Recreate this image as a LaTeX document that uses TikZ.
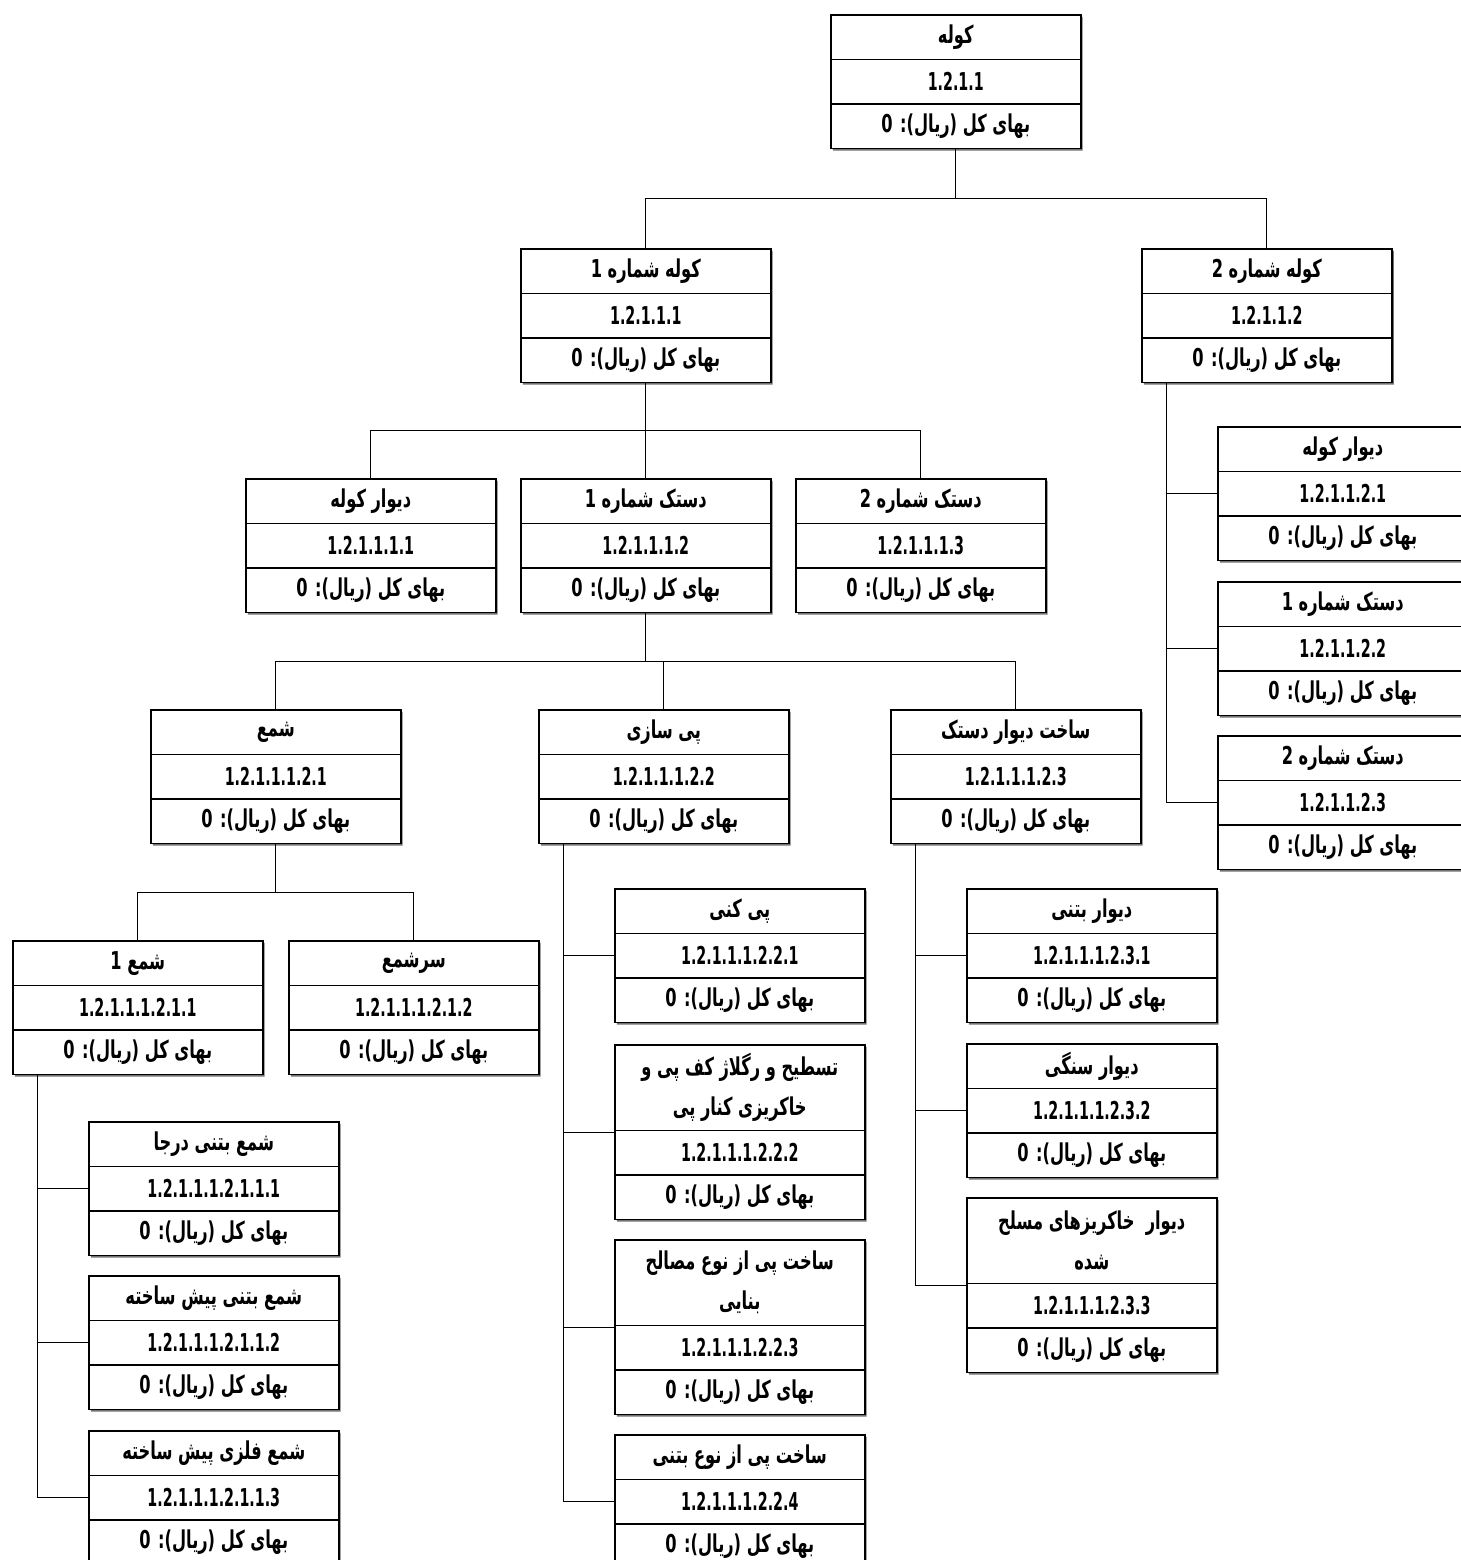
\documentclass[tikz,border=0pt]{standalone}
\usepackage{fontspec}
\setmainfont{DejaVu Sans}[FakeStretch=0.58]
\newfontfamily\fa[Script=Arabic,FakeStretch=0.66]{DejaVu Sans}
\TeXXeTstate=1
\usetikzlibrary{shapes.multipart,shadows,calc}

\tikzset{
  wbsbox/.style={rectangle split, rectangle split parts=3, draw, fill=white,
    line width=0.9pt, inner sep=0pt, anchor=north west,
    font=\fontsize{14}{16}\selectfont\bfseries,
    drop shadow={shadow xshift=0.04cm, shadow yshift=-0.04cm, fill=black!55, opacity=1}},
  bus/.style={to path={|- ($(\tikztostart)!.5!(\tikztotarget)$) -| (\tikztotarget)}},
  link/.style={line width=0.5pt}
}
\newcommand\cellrow[1]{\parbox[c][0.86cm][c]{5cm}{\centering #1}}
\newcommand\fatext[1]{{\fa\beginR #1\endR}}
\newcommand\titletwo[2]{\parbox[c][1.68cm][c]{5cm}{\centering\fa\baselineskip=0.8cm
  \beginR #1\endR\par\beginR #2\endR}}
\newcommand\cost{\cellrow{\fatext{بهای کل (ریال): 0}}}
% box: name, top left corner, title, code
\newcommand\wbs[4]{\node[wbsbox] (#1) at (#2)
  {\cellrow{\fatext{#3}}\nodepart{two}\cellrow{#4}\nodepart{three}\cost};}
% box with a title on two lines
\newcommand\wbsl[5]{\node[wbsbox] (#1) at (#2)
  {\titletwo{#3}{#4}\nodepart{two}\cellrow{#5}\nodepart{three}\cost};}

\begin{document}
\begin{tikzpicture}[x=0.02cm,y=-0.02cm]
\useasboundingbox (0,0) rectangle (1461,1560);
\clip (0,0) rectangle (1461,1560);
\fill[white] (0,0) rectangle (1461,1560);

\wbs{kole}{830,14}{\beginR کوله\endR}{1.2.1.1}
\wbs{k1}{520,248}{\beginR کوله شماره 1\endR}{1.2.1.1.1}
\wbs{k2}{1141,248}{\beginR کوله شماره 2\endR}{1.2.1.1.2}

\wbs{k1a}{245,478}{\beginR دیوار کوله\endR}{1.2.1.1.1.1}
\wbs{k1b}{520,478}{\beginR دستک شماره 1\endR}{1.2.1.1.1.2}
\wbs{k1c}{795,478}{\beginR دستک شماره 2\endR}{1.2.1.1.1.3}

\wbs{k2a}{1217,426}{\beginR دیوار کوله\endR}{1.2.1.1.2.1}
\wbs{k2b}{1217,581}{\beginR دستک شماره 1\endR}{1.2.1.1.2.2}
\wbs{k2c}{1217,735}{\beginR دستک شماره 2\endR}{1.2.1.1.2.3}

\wbs{shama}{150,709}{\beginR شمع\endR}{1.2.1.1.1.2.1}
\wbs{pey}{538,709}{\beginR پی سازی\endR}{1.2.1.1.1.2.2}
\wbs{divar}{890,709}{\beginR ساخت دیوار دستک\endR}{1.2.1.1.1.2.3}

\wbs{shama1}{12,940}{\beginR شمع 1\endR}{1.2.1.1.1.2.1.1}
\wbs{sarshama}{288,940}{\beginR سرشمع\endR}{1.2.1.1.1.2.1.2}
\wbs{sha}{88,1121}{\beginR شمع بتنی درجا\endR}{1.2.1.1.1.2.1.1.1}
\wbs{shb}{88,1275}{\beginR شمع بتنی پیش ساخته\endR}{1.2.1.1.1.2.1.1.2}
\wbs{shc}{88,1430}{\beginR شمع فلزی پیش ساخته\endR}{1.2.1.1.1.2.1.1.3}

\wbs{pa}{614,888}{\beginR پی کنی\endR}{1.2.1.1.1.2.2.1}
\wbsl{pb}{614,1044}{\beginR تسطیح و رگلاژ کف پی و\endR}{\beginR خاکریزی کنار پی\endR}{1.2.1.1.1.2.2.2}
\wbsl{pc}{614,1239}{\beginR ساخت پی از نوع مصالح\endR}{\beginR بنایی\endR}{1.2.1.1.1.2.2.3}
\wbs{pd}{614,1434}{\beginR ساخت پی از نوع بتنی\endR}{1.2.1.1.1.2.2.4}

\wbs{da}{966,888}{\beginR دیوار بتنی\endR}{1.2.1.1.1.2.3.1}
\wbs{db}{966,1043}{\beginR دیوار سنگی\endR}{1.2.1.1.1.2.3.2}
\wbsl{dc}{966,1197}{\beginR دیوار\ \ خاکریزهای مسلح\endR}{\beginR شده\endR}{1.2.1.1.1.2.3.3}

% tree links
\draw[link] (kole.south) to[bus] (k1.north);
\draw[link] (kole.south) to[bus] (k2.north);
\foreach \c in {k1a,k1b,k1c} \draw[link] (k1.south) to[bus] (\c.north);
\foreach \c in {shama,pey,divar} \draw[link] (k1b.south) to[bus] (\c.north);
\foreach \c in {shama1,sarshama} \draw[link] (shama.south) to[bus] (\c.north);

% side links
\foreach \c in {k2a,k2b,k2c} \draw[link] ([xshift=.5cm]k2.south west) |- (\c.west);
\foreach \c in {sha,shb,shc} \draw[link] ([xshift=.5cm]shama1.south west) |- (\c.west);
\foreach \c in {pa,pb,pc,pd} \draw[link] ([xshift=.5cm]pey.south west) |- (\c.west);
\foreach \c in {da,db,dc} \draw[link] ([xshift=.5cm]divar.south west) |- (\c.west);
\end{tikzpicture}
\end{document}
